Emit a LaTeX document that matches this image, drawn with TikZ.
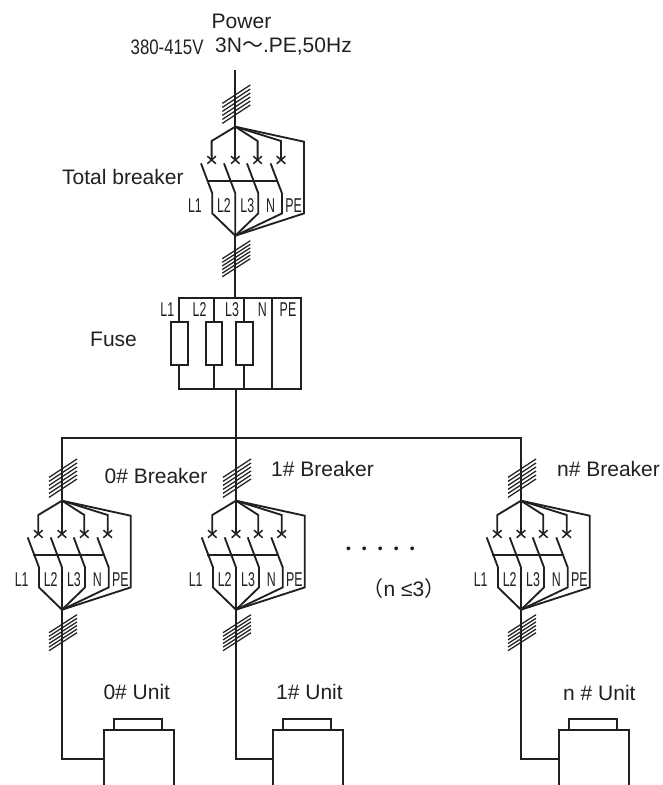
\documentclass[tikz,border=0pt]{standalone}
\usepackage{fontspec}
\setmainfont{Liberation Sans}
\newfontfamily\cjkfont{Noto Sans CJK SC}
\definecolor{ink}{HTML}{231F20}
\tikzset{
  wire/.style={draw=ink,line width=1.85pt,line join=miter},
  thin wire/.style={draw=ink,line width=1.25pt},
  lbl/.style={text=ink,font=\fontsize{21}{23}\selectfont,inner sep=0pt,anchor=west},
  phase/.style={text=ink,font=\fontsize{20}{22}\selectfont,inner sep=0pt,xscale=.62,transform shape},
  pics/breaker/.style={code={
    \coordinate (-hubtop) at (0,0);
    \coordinate (-hubbot) at (0,109);
    % feeds
    \draw[wire] (-hubtop) -- (-23.7,14.3) -- (-23.7,33);
    \draw[wire] (-hubtop) -- (0,33);
    \draw[wire] (-hubtop) -- (22.3,14.3) -- (22.3,33);
    \draw[wire] (-hubtop) -- (45.7,14.3) -- (45.7,33);
    \draw[wire] (-hubtop) -- (68.7,15) -- (68.7,86.7) -- (-hubbot);
    % contact crosses
    \foreach \cx in {-23.7,0,22.3,45.7}{
      \draw[wire,line width=1.5pt] (\cx-4.3,29.5) -- (\cx+4.3,37);
      \draw[wire,line width=1.5pt] (\cx-4.3,37) -- (\cx+4.3,29.5);
    }
    % blades
    \draw[wire] (-34.3,36.7) -- (-23,66.7) -- (-23,86.7) -- (-hubbot);
    \draw[wire] (-11.3,36.7) -- (0,66.7) -- (-hubbot);
    \draw[wire] (11.7,36.7) -- (23,66.7) -- (23,86.7) -- (-hubbot);
    \draw[wire] (35.3,36.7) -- (46.7,66.7) -- (46.7,86.7) -- (-hubbot);
    \draw[wire,line width=1.6pt] (-28.7,54) -- (41.3,54);
    % phase labels
    \node[phase] (-l1) at (-40.3,79) {L1};
    \node[phase] (-l2) at (-11.3,79) {L2};
    \node[phase] (-l3) at (12,79) {L3};
    \node[phase] (-ln) at (35.3,79) {N};
    \node[phase] (-lpe) at (58.3,79) {PE};
    % cable hatches
    \foreach \i in {0,...,5}{
      \draw[thin wire] (-13,-3.3-4*\i) -- (15,-21.7-4*\i);
      \draw[thin wire] (-13,150-3.6*\i) -- (15,132-3.6*\i);
    }
  }},
  pics/unit/.style={code={
    \coordinate (-feed) at (0,29.3);
    \draw[wire] (0,55) -- (0,0) -- (70,0) -- (70,55);
    \draw[wire] (10.3,0) -- (10.3,-11) -- (58,-11) -- (58,0);
  }},
}
\begin{document}
\begin{tikzpicture}[x=1pt,y=-1pt]
\useasboundingbox (0,0) rectangle (662,785);
% nodes / anchors
\coordinate (supply) at (235.3,70);
\pic (main) at (235.3,126.7) {breaker};
\pic (b0) at (62,500.7) {breaker};
\pic (b1) at (236,500.7) {breaker};
\pic (bn) at (521,500.7) {breaker};
\pic (u0) at (104,730) {unit};
\pic (u1) at (273,730) {unit};
\pic (un) at (559,730) {unit};
% supply side
\draw[wire] (supply) -- (main-hubtop);
\coordinate (fusein) at (235.3,297.7);
\coordinate (fuseout) at (236,389);
\draw[wire] (main-hubbot) -- (fusein);
% fuse block
\draw[wire] (179.3,389) -- (179.3,297.7) -- (301,297.7) -- (301,389) -- cycle;
\draw[wire] (271.7,297.7) -- (271.7,389);
\foreach \n/\fx in {fa/179.3,fb/214,fc/244.3}{
  \draw[wire] (\fx,297.7) -- (\fx,389);
  \node[draw=ink,line width=1.85pt,fill=white,minimum width=16.6pt,minimum height=42.7pt,inner sep=0pt] (\n) at (\fx,343.6) {};
}
\node[phase] (fl1) at (167.3,309.3) {L1};
\node[phase] (fl2) at (199.5,309.3) {L2};
\node[phase] (fl3) at (232,309.3) {L3};
\node[phase] (fln) at (262.3,309.3) {N};
\node[phase] (flpe) at (288,309.3) {PE};
% bus
\coordinate (busl) at (62,438);
\coordinate (busr) at (521,438);
\coordinate (busm) at (236,438);
\draw[wire] (fuseout) -- (busm) -- (b1-hubtop);
\draw[wire] (b0-hubtop) -- (busl) -- (busr) -- (bn-hubtop);
% feeders
\draw[wire] (b0-hubbot) |- (u0-feed);
\draw[wire] (b1-hubbot) |- (u1-feed);
\draw[wire] (bn-hubbot) |- (un-feed);
% text
\node[lbl,anchor=center] (tpower) at (241.5,21) {Power};
\node[lbl,xscale=.8,transform shape] (tvolt) at (130.5,47) {380-415V};
\node[lbl] (tsys) at (215,47) {3N{\cjkfont ～}.PE,50Hz};
\node[lbl] (ttotal) at (62,177) {Total breaker};
\node[lbl] (tfuse) at (90,339) {Fuse};
\node[lbl] (t0b) at (104.5,476) {0\# Breaker};
\node[lbl] (t1b) at (271,469) {1\# Breaker};
\node[lbl] (tnb) at (557,468.5) {n\# Breaker};
\node[lbl,font=\fontsize{14}{16}\selectfont] (tdots) at (345.8,550) {•\hspace{11.1pt}•\hspace{11.1pt}•\hspace{11.1pt}•\hspace{11.1pt}•};
\node[lbl] (tn) at (362.5,589) {{\cjkfont （}n ≤3{\cjkfont ）}};
\node[lbl] (t0u) at (103.3,692) {0\# Unit};
\node[lbl] (t1u) at (276,692) {1\# Unit};
\node[lbl] (tnu) at (563,692.5) {n \# Unit};
\end{tikzpicture}
\end{document}
